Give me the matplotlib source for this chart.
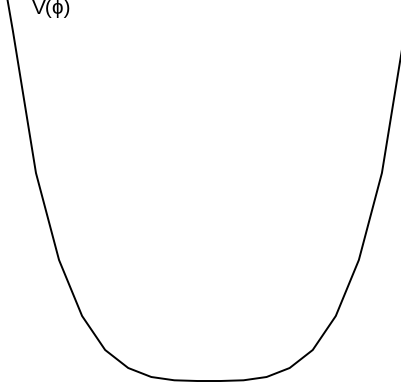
import matplotlib
matplotlib.use("Agg")
import matplotlib.pyplot as plt

# field values (arbitrary units) and potential values
phi = [-9.5, -8.5, -7.5, -6.5, -5.5, -4.5, -3.5, -2.5, -1.5, -0.5,
       0.5, 1.5, 2.5, 3.5, 4.5, 5.5, 6.5, 7.5, 8.5, 9.5]
V = [4.83, 3.50, 2.08, 1.21, 0.65, 0.31, 0.13, 0.04, 0.007, 0.0,
     0.0, 0.007, 0.04, 0.13, 0.31, 0.65, 1.21, 2.08, 3.50, 4.83]
label = "V(\u03d5)"

fig = plt.figure(figsize=(4.02, 3.89), dpi=100)
ax = fig.add_axes([0, 0, 1, 1])
ax.plot(phi, V, color="black", lw=1.4, solid_joinstyle="miter")
ax.set_xlim(-9.06, 8.37)
ax.set_ylim(-0.08, 3.81)
ax.axis("off")
fig.text(32 / 402, 1.0 + 1 / 389, label, ha="left", va="top",
         fontsize=15, family=["Liberation Sans", "DejaVu Sans"])
fig.savefig("out.png", dpi=100)
